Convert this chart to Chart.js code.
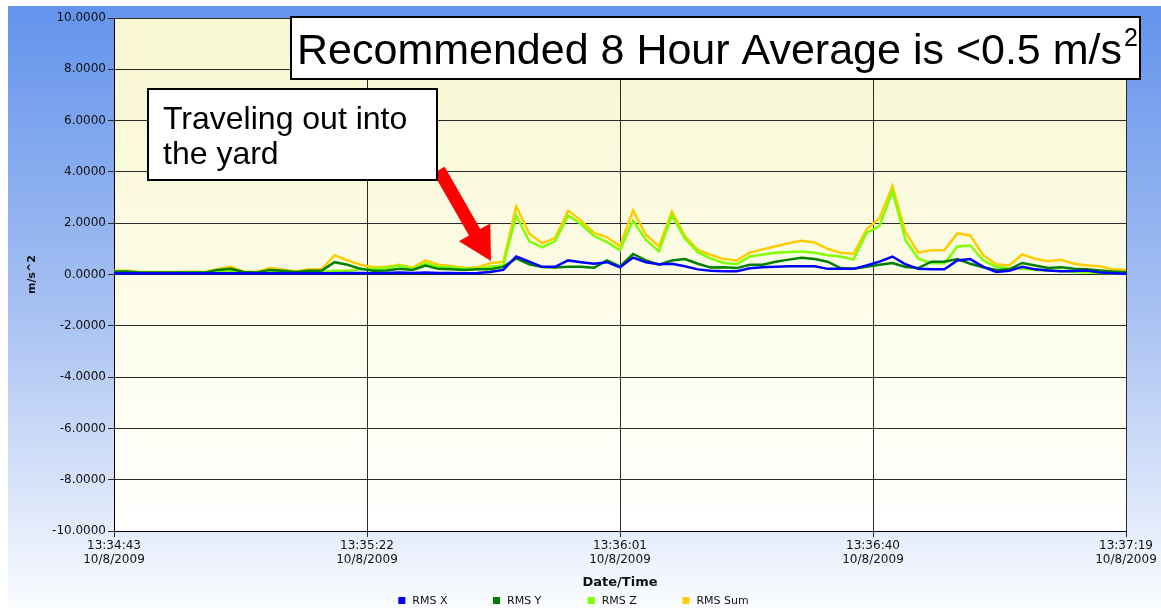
<!DOCTYPE html>
<html>
<head>
<meta charset="utf-8">
<script src="https://cdn.jsdelivr.net/npm/chart.js@4.4.1/dist/chart.umd.min.js"></script>
<style>
    html, body { margin: 0; padding: 0; background: #fff; }
    #chartWrap { width: 1161px; height: 608px; }
</style>
</head>
<body>
<div id="chartWrap"><canvas id="rmsChart" width="1161" height="608"></canvas></div>
<script>
// sample times, seconds after 13:34:43
const seconds = [0, 2, 4, 6, 8, 10, 12, 14, 16, 18, 20, 22, 24, 26, 28, 30, 32, 34, 36, 38,
    40, 42, 44, 46, 48, 50, 52, 54, 56, 58, 60, 62, 64, 66, 68, 70, 72, 74, 76, 78,
    80, 82, 84, 86, 88, 90, 92, 94, 96, 98, 100, 102, 104, 106, 108, 110, 112, 114, 116, 118,
    120, 122, 124, 126, 128, 130, 132, 134, 136, 138, 140, 142, 144, 146, 148, 150, 152, 154, 156];

const rmsX = [0.05, 0.05, 0.05, 0.05, 0.05, 0.05, 0.05, 0.05, 0.05, 0.05, 0.05, 0.05, 0.05, 0.05, 0.05, 0.05, 0.05, 0.05, 0.06, 0.06,
    0.05, 0.06, 0.08, 0.06, 0.08, 0.06, 0.06, 0.05, 0.06, 0.10, 0.18, 0.70, 0.50, 0.30, 0.30, 0.55, 0.48, 0.42, 0.48, 0.28,
    0.66, 0.48, 0.40, 0.42, 0.32, 0.20, 0.15, 0.13, 0.13, 0.24, 0.28, 0.30, 0.32, 0.32, 0.32, 0.22, 0.22, 0.22, 0.35, 0.50,
    0.70, 0.40, 0.22, 0.20, 0.20, 0.55, 0.60, 0.30, 0.10, 0.15, 0.30, 0.20, 0.16, 0.13, 0.14, 0.16, 0.08, 0.05, 0.03];

const rmsY = [0.12, 0.12, 0.08, 0.08, 0.08, 0.08, 0.08, 0.08, 0.18, 0.22, 0.10, 0.08, 0.18, 0.15, 0.10, 0.15, 0.15, 0.48, 0.38, 0.22,
    0.15, 0.16, 0.22, 0.18, 0.35, 0.22, 0.20, 0.18, 0.20, 0.20, 0.30, 0.63, 0.40, 0.29, 0.27, 0.30, 0.30, 0.26, 0.55, 0.32,
    0.80, 0.55, 0.38, 0.55, 0.60, 0.42, 0.27, 0.28, 0.25, 0.38, 0.38, 0.50, 0.58, 0.65, 0.60, 0.50, 0.25, 0.22, 0.30, 0.38,
    0.45, 0.29, 0.25, 0.50, 0.50, 0.60, 0.42, 0.28, 0.18, 0.20, 0.45, 0.35, 0.25, 0.28, 0.22, 0.20, 0.16, 0.12, 0.09];

const rmsZ = [0.10, 0.10, 0.08, 0.08, 0.08, 0.08, 0.08, 0.08, 0.12, 0.15, 0.08, 0.08, 0.12, 0.10, 0.08, 0.10, 0.10, 0.15, 0.15, 0.20,
    0.22, 0.25, 0.35, 0.22, 0.44, 0.30, 0.28, 0.22, 0.22, 0.30, 0.35, 2.30, 1.30, 1.06, 1.30, 2.30, 1.97, 1.50, 1.26, 0.95,
    2.10, 1.35, 0.90, 2.30, 1.40, 0.87, 0.62, 0.45, 0.40, 0.70, 0.78, 0.85, 0.88, 0.90, 0.85, 0.75, 0.70, 0.58, 1.62, 1.90,
    3.25, 1.35, 0.62, 0.44, 0.44, 1.09, 1.13, 0.55, 0.30, 0.24, 0.22, 0.18, 0.16, 0.14, 0.10, 0.08, 0.06, 0.05, 0.05];

const rmsSum = [0.15, 0.15, 0.10, 0.10, 0.10, 0.10, 0.12, 0.10, 0.22, 0.30, 0.12, 0.10, 0.25, 0.20, 0.12, 0.20, 0.20, 0.75, 0.55, 0.38,
    0.28, 0.30, 0.38, 0.26, 0.55, 0.38, 0.33, 0.25, 0.28, 0.44, 0.50, 2.65, 1.60, 1.22, 1.42, 2.49, 2.10, 1.62, 1.45, 1.10,
    2.50, 1.55, 1.10, 2.45, 1.50, 0.96, 0.76, 0.60, 0.55, 0.85, 0.98, 1.10, 1.22, 1.32, 1.25, 1.00, 0.85, 0.81, 1.75, 2.20,
    3.45, 1.65, 0.85, 0.95, 0.95, 1.60, 1.52, 0.75, 0.40, 0.35, 0.78, 0.61, 0.52, 0.57, 0.42, 0.35, 0.32, 0.20, 0.18];

const seriesNames = ['RMS X', 'RMS Y', 'RMS Z', 'RMS Sum'];
const seriesColors = ['#0000FF', '#008000', '#80FF00', '#FFCC00'];

const tickSeconds = [0, 39, 78, 117, 156];
const tickTimes = ['13:34:43', '13:35:22', '13:36:01', '13:36:40', '13:37:19'];
const tickDates = ['10/8/2009', '10/8/2009', '10/8/2009', '10/8/2009', '10/8/2009'];

const noteTitle = 'Recommended 8 Hour Average is <0.5 m/s';
const noteArrow = ['Traveling out into', 'the yard'];

function toPoints(values) {
    return values.map((v, i) => ({x: seconds[i], y: v}));
}

// background, plot gradient
const backgroundPlugin = {
    id: 'backgroundPlugin',
    beforeDraw(chart) {
        const ctx = chart.ctx;
        const area = chart.chartArea;
        ctx.save();
        ctx.fillStyle = '#ffffff';
        ctx.fillRect(0, 0, chart.width, chart.height);

        let outer = ctx.createLinearGradient(0, 6, 0, chart.height);
        outer.addColorStop(0, '#6393EC');
        outer.addColorStop(0.5, '#A6C0F2');
        outer.addColorStop(1, '#FAFCFF');
        ctx.fillStyle = outer;
        ctx.fillRect(8, 6, chart.width - 8, chart.height - 6);

        let inner = ctx.createLinearGradient(0, area.top, 0, area.bottom);
        inner.addColorStop(0, '#F7F7D1');
        inner.addColorStop(0.5, '#FCFCE6');
        inner.addColorStop(1, '#FFFFFF');
        ctx.fillStyle = inner;
        ctx.fillRect(area.left, area.top, area.right - area.left, area.bottom - area.top);
        ctx.restore();
    }
};

function drawArrow(ctx, x1, y1, x2, y2, shaftW, headW, headL) {
    let ang = Math.atan2(y2 - y1, x2 - x1);
    let len = Math.hypot(x2 - x1, y2 - y1);
    ctx.save();
    ctx.translate(x1, y1);
    ctx.rotate(ang);
    ctx.beginPath();
    ctx.moveTo(0, -shaftW / 2);
    ctx.lineTo(len - headL, -shaftW / 2);
    ctx.lineTo(len - headL, -headW / 2);
    ctx.lineTo(len, 0);
    ctx.lineTo(len - headL, headW / 2);
    ctx.lineTo(len - headL, shaftW / 2);
    ctx.lineTo(0, shaftW / 2);
    ctx.closePath();
    ctx.fillStyle = '#FF0000';
    ctx.fill();
    ctx.restore();
}

// text boxes, arrow and legend
const notesPlugin = {
    id: 'notesPlugin',
    afterDraw(chart) {
        const ctx = chart.ctx;
        ctx.save();

        // recommended average box
        ctx.fillStyle = '#ffffff';
        ctx.fillRect(291, 17, 849, 62);
        ctx.lineWidth = 2;
        ctx.strokeStyle = '#000000';
        ctx.strokeRect(291, 17, 849, 62);
        ctx.fillStyle = '#000000';
        ctx.textBaseline = 'alphabetic';
        ctx.textAlign = 'left';
        ctx.font = '43px "Liberation Sans"';
        ctx.fillText(noteTitle, 297, 64);
        let w = ctx.measureText(noteTitle).width;
        ctx.font = '25px "Liberation Sans"';
        ctx.fillText('2', 297 + w + 2, 46);

        // arrow and its label
        drawArrow(ctx, 439, 170, 491, 261, 13, 36, 33);
        ctx.fillStyle = '#ffffff';
        ctx.fillRect(148, 89, 289, 91);
        ctx.strokeRect(148, 89, 289, 91);
        ctx.fillStyle = '#000000';
        ctx.font = '32px "Liberation Sans"';
        ctx.fillText(noteArrow[0], 163, 129);
        ctx.fillText(noteArrow[1], 163, 164);

        // legend
        ctx.font = '11px "DejaVu Sans"';
        ctx.textBaseline = 'middle';
        let step = 94.7;
        let lastW = 14 + ctx.measureText(seriesNames[3]).width;
        let x = chart.width / 2 - (3 * step + lastW) / 2 - 7;
        chart.data.datasets.forEach((ds, i) => {
            let ix = x + i * step;
            ctx.fillStyle = ds.borderColor;
            ctx.fillRect(ix, 597, 7, 7);
            ctx.fillStyle = '#111111';
            ctx.fillText(ds.label, ix + 14, 601);
        });
        ctx.restore();
    }
};

const ctx = document.getElementById('rmsChart').getContext('2d');
const datasets = [rmsX, rmsY, rmsZ, rmsSum].map((vals, i) => ({
    label: seriesNames[i],
    data: toPoints(vals),
    borderColor: seriesColors[i],
    backgroundColor: seriesColors[i],
    borderWidth: 2.5,
    pointRadius: 0,
    tension: 0,
    fill: false
}));

const rmsChart = new Chart(ctx, {
    type: 'line',
    data: {datasets: datasets},
    options: {
        responsive: false,
        animation: false,
        layout: {padding: {top: 18, right: 35, left: 0, bottom: 0}},
        plugins: {
            legend: {display: false},
            tooltip: {enabled: false}
        },
        scales: {
            x: {
                type: 'linear',
                min: 0,
                max: 156,
                afterBuildTicks: function (scale) {
                    scale.ticks = tickSeconds.map(v => ({value: v}));
                },
                afterFit: function (scale) {
                    scale.height = 77;
                },
                ticks: {
                    autoSkip: false,
                    maxRotation: 0,
                    padding: 2,
                    color: '#111111',
                    font: {family: 'DejaVu Sans', size: 12, lineHeight: 1.17},
                    callback: function (value, index) {
                        return [tickTimes[index], tickDates[index]];
                    }
                },
                grid: {color: '#2a2a2a', lineWidth: 1, tickLength: 6},
                border: {color: '#000000', width: 1},
                title: {
                    display: true,
                    text: 'Date/Time',
                    color: '#111111',
                    font: {family: 'DejaVu Sans', size: 13, weight: 'bold'},
                    padding: {top: 0, bottom: 18}
                }
            },
            y: {
                min: -10,
                max: 10,
                afterFit: function (scale) {
                    scale.width = 114;
                },
                ticks: {
                    stepSize: 2,
                    padding: 2,
                    color: '#111111',
                    font: {family: 'DejaVu Sans', size: 12},
                    callback: function (value) {
                        return value.toFixed(4);
                    }
                },
                grid: {color: '#2a2a2a', lineWidth: 1, tickLength: 6},
                border: {color: '#000000', width: 1},
                title: {
                    display: true,
                    text: 'm/s^2',
                    color: '#111111',
                    font: {family: 'DejaVu Sans', size: 11, weight: 'bold'},
                    padding: {top: 26, bottom: 0}
                }
            }
        }
    },
    plugins: [backgroundPlugin, notesPlugin]
});
</script>
</body>
</html>
